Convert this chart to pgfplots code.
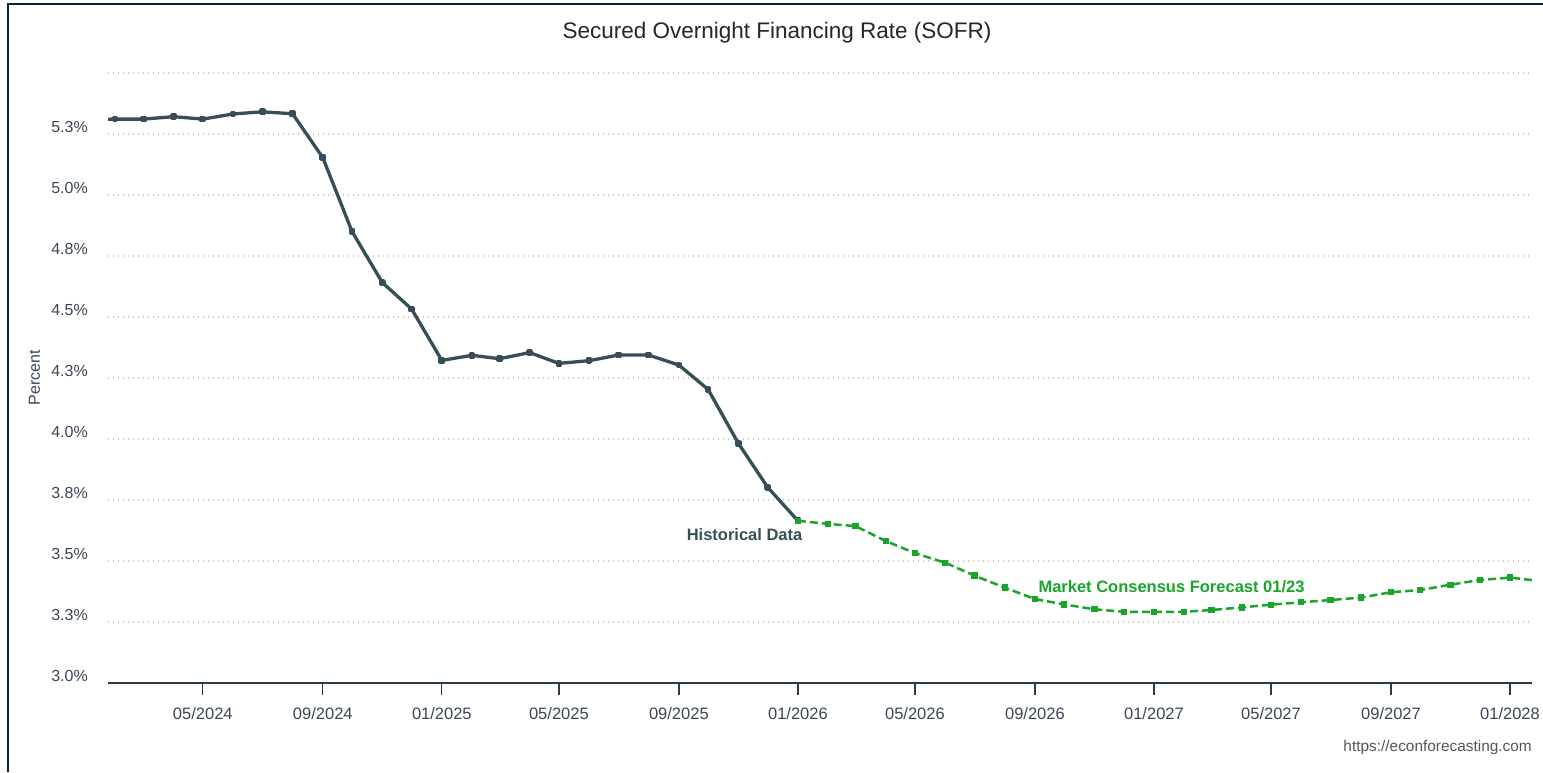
\documentclass[border=0pt]{standalone}
\usepackage{pgfplots}
\pgfplotsset{compat=1.18}
\usepackage{fontspec}
\setmainfont{Liberation Sans}
\definecolor{histc}{HTML}{374E58}
\definecolor{fcst}{HTML}{1AA52A}
\definecolor{tickc}{HTML}{3A4656}
\definecolor{gridc}{HTML}{CCC8BE}
\definecolor{axc}{HTML}{2B3A47}
\definecolor{navy}{HTML}{0A2240}
\definecolor{srcc}{HTML}{555555}
\begin{document}
\begin{tikzpicture}[x=1pt,y=1pt]
\path[use as bounding box] (0,0) rectangle (1543,772);
\draw[navy, line width=2pt] (7.8,0) -- (7.8,768) -- (1543,768);
\node[font=\fontsize{22.5}{27}\selectfont, text=black!85] at (777,739) {Secured Overnight Financing Rate (SOFR)};
\node[font=\fontsize{15.4}{18}\selectfont, text=srcc, anchor=east, inner sep=0pt] at (1532,24) {https://econforecasting.com};
\node[font=\fontsize{16}{19}\selectfont, text=tickc, rotate=90, inner sep=0pt] at (34.5,394.5) {Percent};
\begin{axis}[
  at={(108pt,89pt)}, anchor=south west,
  width=1424pt, height=610pt, scale only axis,
  xmin=23.8, xmax=1483.5, ymin=3, ymax=5.5,
  axis x line*=bottom, axis y line*=left,
  y axis line style={draw=none},
  x axis line style={axc, line width=1.5pt},
  ytick={3,3.25,3.5,3.75,4,4.25,4.5,4.75,5,5.25,5.5},
  yticklabels={3.0\%,3.3\%,3.5\%,3.8\%,4.0\%,4.3\%,4.5\%,4.8\%,5.0\%,5.3\%,},
  xtick={121,244,366,486,609,731,851,974,1096,1216,1339,1461},
  xticklabels={05/2024,09/2024,01/2025,05/2025,09/2025,01/2026,05/2026,09/2026,01/2027,05/2027,09/2027,01/2028},
  ytick style={draw=none},
  xtick style={axc, line width=1.3pt},
  tick align=outside, major tick length=12pt,
  ymajorgrids, grid style={gridc, line width=1.2pt, dash pattern=on 1.2pt off 3.8pt},
  /pgf/number format/assume math mode=true,
  yticklabel style={font=\fontsize{16}{19}\selectfont, text=tickc, anchor=east, inner sep=0pt, xshift=-8pt, yshift=7pt},
  xticklabel style={font=\fontsize{16.5}{19}\selectfont, text=tickc, anchor=north, inner sep=0pt, yshift=-12pt},
  clip=true,
]
\addplot[histc, line width=3.3pt, mark=square*, mark size=1.7pt, line join=round] coordinates {
(0,5.31) (31,5.311) (60,5.311) (91,5.321) (121,5.311) (152,5.332) (182,5.341) (213,5.333)
(244,5.153) (274,4.850) (305,4.641) (335,4.533) (366,4.322) (397,4.343) (425,4.329)
(456,4.354) (486,4.310) (517,4.321) (547,4.344) (578,4.344) (609,4.303) (639,4.203)
(670,3.982) (700,3.802) (731,3.665)
};
\addplot[fcst, line width=2.5pt, dash pattern=on 8pt off 4pt, mark=square*, mark size=1.9pt, mark options={solid}] coordinates {
(731,3.665) (762,3.652) (790,3.643) (821,3.582) (851,3.532) (882,3.493) (912,3.440)
(943,3.391) (974,3.344) (1004,3.322) (1035,3.302) (1065,3.292) (1096,3.292) (1127,3.292)
(1155,3.299) (1186,3.310) (1216,3.321) (1247,3.331) (1277,3.340) (1308,3.350) (1339,3.372)
(1369,3.381) (1400,3.403) (1430,3.422) (1461,3.432) (1492,3.418)
};
\node[font=\bfseries\fontsize{16.5}{19}\selectfont, text=histc] at (axis cs:676.3,3.607) {Historical Data};
\node[font=\bfseries\fontsize{16.5}{19}\selectfont, text=fcst] at (axis cs:1114,3.393) {Market Consensus Forecast 01/23};
\end{axis}
\end{tikzpicture}
\end{document}
